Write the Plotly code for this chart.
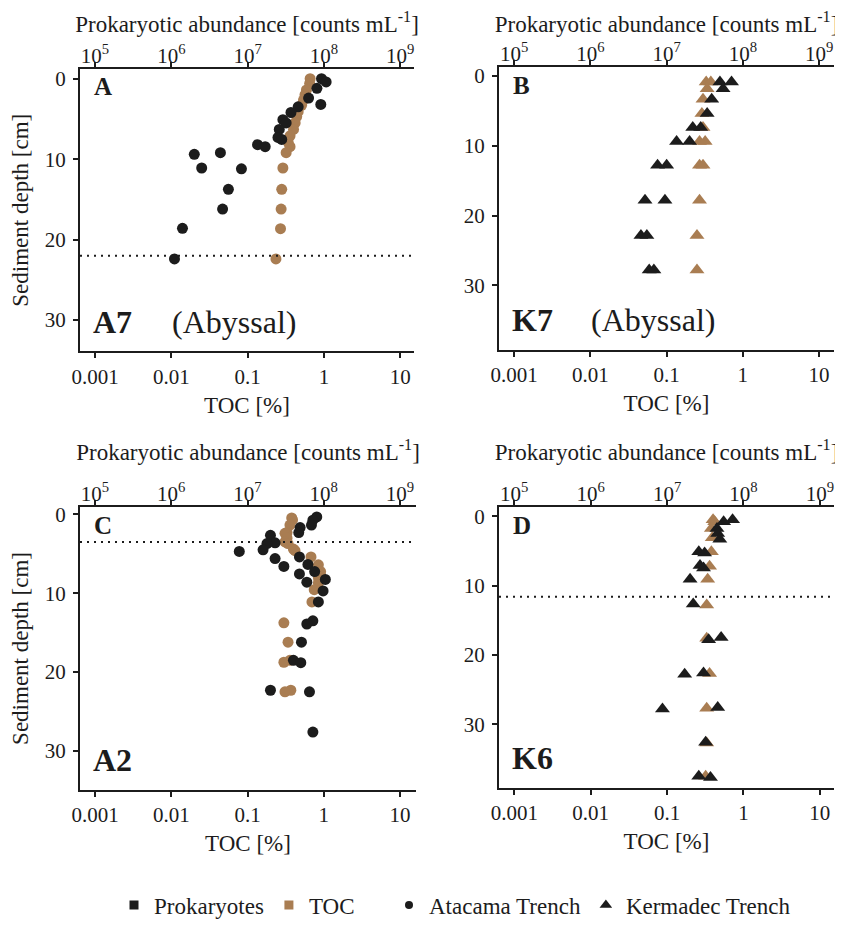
import plotly.graph_objects as go

W, H = 843, 927
OFF = 8  # page margin around the plot div
INK = "#1c1c1c"
TOC_BROWN = "#a97d52"
SERIF = "Liberation Serif"

# A7 - Atacama Trench, abyssal (panel A)
a7_cell_depth = [0.0, 0.4, 1.2, 2.4, 3.2, 3.5, 4.2, 5.1, 5.5, 6.3, 7.3, 7.55, 8.2, 8.45,
                 9.2, 9.4, 11.1, 11.2, 13.75, 16.2, 18.6, 22.4]
a7_cells = [9.3e7, 1.07e8, 8.1e7, 6.3e7, 9.1e7, 4.6e7, 3.7e7, 2.9e7, 3.2e7, 2.6e7, 2.5e7, 2.8e7,
            1.35e7, 1.7e7, 4.4e6, 2.0e6, 2.5e6, 8.3e6, 5.6e6, 4.7e6, 1.4e6, 1.1e6]
a7_toc_depth = [0.0, 0.6, 1.4, 2.0, 2.65, 3.3, 4.1, 4.7, 5.5, 6.3, 7.1, 7.9, 8.45, 9.2,
                11.1, 13.75, 16.2, 18.65, 22.4]
a7_toc = [0.66, 0.65, 0.59, 0.565, 0.54, 0.51, 0.46, 0.44, 0.42, 0.40, 0.36, 0.34, 0.36, 0.32,
          0.29, 0.28, 0.275, 0.27, 0.235]

# K7 - Kermadec Trench, abyssal (panel B)
k7_cell_depth = [0.9, 0.9, 1.85, 3.35, 5.4, 7.4, 7.4, 9.4, 9.4, 12.8, 12.8, 17.8, 17.8,
                 22.85, 22.85, 27.8, 27.8]
k7_cells = [7.1e7, 5.0e7, 5.5e7, 3.9e7, 3.4e7, 2.2e7, 2.8e7, 1.35e7, 2.0e7, 7.6e6, 1.0e7,
            5.2e6, 9.5e6, 4.6e6, 5.5e6, 5.9e6, 6.8e6]
k7_toc_depth = [0.9, 0.9, 1.85, 3.35, 5.4, 7.4, 9.4, 9.4, 12.8, 12.8, 17.8, 22.85, 27.8]
k7_toc = [0.33, 0.38, 0.34, 0.30, 0.29, 0.30, 0.27, 0.32, 0.27, 0.30, 0.27, 0.25, 0.25]

# A2 - Atacama Trench (panel C)
a2_cell_depth = [0.33, 0.73, 1.35, 1.67, 2.3, 2.65, 3.6, 3.7, 4.5, 4.7, 5.4, 5.6, 6.35, 6.6,
                 7.25, 7.55, 8.25, 8.6, 9.7, 11.1, 13.5, 13.9, 16.2, 18.5, 18.8, 22.3, 22.5, 27.6]
a2_cells = [8.1e7, 7.2e7, 6.9e7, 4.9e7, 4.7e7, 2.0e7, 2.3e7, 1.8e7, 1.6e7, 7.8e6, 4.8e7, 2.3e7,
            6.2e7, 3.0e7, 7.6e7, 4.8e7, 1.05e8, 6.0e7, 9.8e7, 8.5e7, 7.2e7, 6.0e7, 5.1e7,
            4.0e7, 5.0e7, 2.0e7, 6.5e7, 7.2e7]
a2_toc_depth = [0.45, 0.7, 1.35, 2.3, 2.4, 3.0, 3.5, 3.7, 4.4, 4.6, 5.4, 6.4, 7.25, 7.6, 8.05,
                8.7, 9.55, 11.1, 13.75, 16.2, 18.5, 18.75, 22.3, 22.5]
a2_toc = [0.38, 0.39, 0.36, 0.33, 0.31, 0.33, 0.31, 0.34, 0.40, 0.42, 0.68, 0.85, 0.91, 0.90,
          0.85, 0.85, 0.75, 0.70, 0.30, 0.34, 0.36, 0.30, 0.37, 0.31]

# K6 - Kermadec Trench (panel D)
k6_cell_depth = [0.5, 0.8, 1.75, 2.5, 3.3, 5.1, 5.3, 7.1, 7.45, 9.1, 12.65, 17.5, 17.8, 22.6,
                 22.8, 27.6, 27.8, 32.6, 37.5, 37.7]
k6_cells = [7.2e7, 5.5e7, 4.5e7, 4.6e7, 4.9e7, 2.6e7, 3.1e7, 2.7e7, 3.0e7, 2.0e7, 2.2e7, 5.1e7,
            3.5e7, 3.0e7, 1.7e7, 4.6e7, 8.7e6, 3.2e7, 2.6e7, 3.7e7]
k6_toc_depth = [0.5, 0.8, 1.75, 3.1, 5.1, 7.2, 9.1, 12.8, 17.6, 22.7, 27.7, 32.7, 37.5]
k6_toc = [0.40, 0.42, 0.38, 0.39, 0.38, 0.36, 0.34, 0.33, 0.33, 0.36, 0.33, 0.33, 0.32]

# dotted reference depths
a7_line, a2_line, k6_line = 22.0, 3.5, 11.6

toc_ticks = [0.001, 0.01, 0.1, 1, 10]
toc_ticktext = ["0.001", "0.01", "0.1", "1", "10"]
cell_ticks = [1e5, 1e6, 1e7, 1e8, 1e9]
cell_ticktext = ["10<sup>5</sup>", "10<sup>6</sup>", "10<sup>7</sup>", "10<sup>8</sup>", "10<sup>9</sup>"]
depth_ticks = [0, 10, 20, 30]

# panel boxes in window pixels: left, right, top, bottom; depth range; log10 TOC range
panels = [
    dict(letter="A", site="A7", note="(Abyssal)", symbol="circle", cells=(a7_cell_depth, a7_cells),
         toc=(a7_toc_depth, a7_toc), line=a7_line, box=(80, 414, 70, 356.7),
         yr=(33.9, -1.2), xr=(-3.197, 1.181), toc_on_top=True, left=True),
    dict(letter="B", site="K7", note="(Abyssal)", symbol="triangle-up", cells=(k7_cell_depth, k7_cells),
         toc=(k7_toc_depth, k7_toc), line=None, box=(499, 834, 68.3, 355),
         yr=(39.2, -1.2), xr=(-3.2, 1.196), toc_on_top=False, left=False),
    dict(letter="C", site="A2", note=None, symbol="circle", cells=(a2_cell_depth, a2_cells),
         toc=(a2_toc_depth, a2_toc), line=a2_line, box=(80, 416, 515, 801.7),
         yr=(34.9, -0.9), xr=(-3.197, 1.21), toc_on_top=True, left=True),
    dict(letter="D", site="K6", note=None, symbol="triangle-up", cells=(k6_cell_depth, k6_cells),
         toc=(k6_toc_depth, k6_toc), line=k6_line, box=(499, 834, 515, 800),
         yr=(39.2, -1.3), xr=(-3.2, 1.185), toc_on_top=False, left=False),
]

FW, FH = W - OFF, H - OFF


def fx(p):
    return (p - OFF) / FW


def fy(p):
    return 1 - (p - OFF) / FH


def ref(axis, n):
    return axis if n == 1 else f"{axis}{n}"


fig = go.Figure()
axis_font = dict(family=SERIF, size=21, color=INK)
title_font = dict(family=SERIF, size=23, color=INK)
line_style = dict(showline=True, linecolor=INK, linewidth=2, ticks="outside", ticklen=5,
                  tickwidth=1.5, tickcolor=INK, showgrid=False, zeroline=False, tickfont=axis_font,
                  automargin=False)

annotations = []
for i, p in enumerate(panels, start=1):
    left, right, top, bottom = p["box"]
    xb, yb, xt = ref("x", i), ref("y", i), ref("x", i + 4)
    size = 11 if p["symbol"] == "circle" else 13

    cells = go.Scatter(x=p["cells"][1], y=p["cells"][0], xaxis=xt, yaxis=yb, mode="markers",
                       marker=dict(symbol=p["symbol"], size=size, color=INK), showlegend=False)
    toc = go.Scatter(x=p["toc"][1], y=p["toc"][0], xaxis=xb, yaxis=yb, mode="markers",
                     marker=dict(symbol=p["symbol"], size=size, color=TOC_BROWN), showlegend=False)
    for tr in ([cells, toc] if p["toc_on_top"] else [toc, cells]):
        fig.add_trace(tr)

    if p["line"] is not None:
        fig.add_trace(go.Scatter(x=[10 ** p["xr"][0], 10 ** p["xr"][1]], y=[p["line"], p["line"]],
                                 xaxis=xb, yaxis=yb, mode="lines", hoverinfo="skip",
                                 line=dict(color=INK, width=2, dash="2px,5px"), showlegend=False))

    dom_x = [fx(left), fx(right)]
    dom_y = [fy(bottom), fy(top)]
    fig.layout["xaxis" if i == 1 else f"xaxis{i}"] = dict(
        domain=dom_x, anchor=yb, type="log", range=list(p["xr"]), tickvals=toc_ticks,
        ticktext=toc_ticktext, title=dict(text="TOC [%]", font=title_font, standoff=9), **line_style)
    fig.layout[f"xaxis{i + 4}"] = dict(
        domain=dom_x, anchor=yb, overlaying=xb, side="top", type="log",
        range=[p["xr"][0] + 8, p["xr"][1] + 8], tickvals=cell_ticks, ticktext=cell_ticktext,
        ticklabelstandoff=-9,
        title=dict(text="Prokaryotic abundance [counts mL<sup>-1</sup>]", font=title_font, standoff=12),
        **line_style)
    fig.layout["yaxis" if i == 1 else f"yaxis{i}"] = dict(
        domain=dom_y, anchor=xb, range=list(p["yr"]), tickvals=depth_ticks, ticklabelstandoff=3,
        title=dict(text="Sediment depth [cm]" if p["left"] else "", font=title_font, standoff=10),
        **line_style)

    annotations.append(dict(text=f"<b>{p['letter']}</b>", x=fx(left + 12), y=fy(top + 18),
                            xref="paper", yref="paper", xanchor="left", yanchor="middle",
                            showarrow=False, font=dict(family=SERIF, size=25, color=INK)))
    annotations.append(dict(text=f"<b>{p['site']}</b>", x=fx(left + 11), y=fy(bottom - 30),
                            xref="paper", yref="paper", xanchor="left", yanchor="middle",
                            showarrow=False, font=dict(family=SERIF, size=32, color=INK)))
    if p["note"]:
        annotations.append(dict(text=p["note"], x=fx(left + 90), y=fy(bottom - 30),
                                xref="paper", yref="paper", xanchor="left", yanchor="middle",
                                showarrow=False, font=dict(family=SERIF, size=32, color=INK)))

# legend-only entries: variables in one legend, trenches in a second one
legend_items = [("Prokaryotes", "square", INK, 9, "legend"),
                ("TOC", "square", TOC_BROWN, 9, "legend"),
                ("Atacama Trench", "circle", INK, 8, "legend2"),
                ("Kermadec Trench", "triangle-up", INK, 11, "legend2")]
for name, sym, col, sz, lg in legend_items:
    fig.add_trace(go.Scatter(x=[None], y=[None], mode="markers", name=name, legend=lg,
                             marker=dict(symbol=sym, size=sz, color=col)))

legend_style = dict(orientation="h", yanchor="middle", y=fy(919), xanchor="left",
                    font=dict(family=SERIF, size=23, color=INK), itemwidth=30,
                    bgcolor="rgba(0,0,0,0)", borderwidth=0)

fig.update_layout(
    template="none",
    width=FW, height=FH,
    margin=dict(l=0, r=0, t=0, b=0),
    paper_bgcolor="white", plot_bgcolor="white",
    font=dict(family=SERIF, color=INK),
    annotations=annotations,
    showlegend=True,
    legend=dict(x=fx(114), **legend_style),
    legend2=dict(x=fx(389), **legend_style),
)

fig.write_html("out.html")
